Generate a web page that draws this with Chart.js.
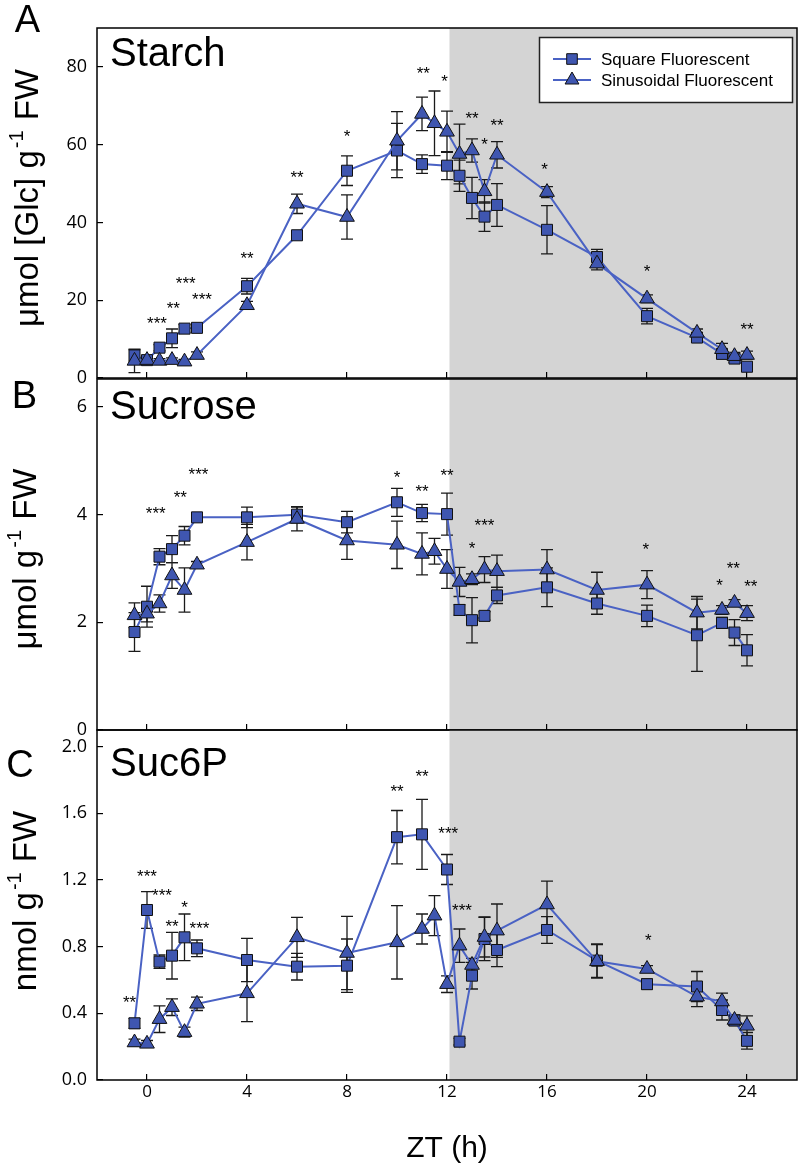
<!DOCTYPE html>
<html>
<head>
<meta charset="utf-8">
<script src="https://cdn.jsdelivr.net/npm/chart.js@4.4.1/dist/chart.umd.min.js"></script>
<style>
  html, body { margin: 0; padding: 0; background: #fff; }
  body { width: 800px; height: 1164px; position: relative; overflow: hidden; }
  canvas { position: absolute; left: 0; }
</style>
</head>
<body>
<canvas id="chartA" width="800" height="400" style="top:0px"></canvas>
<canvas id="chartB" width="800" height="390" style="top:360px"></canvas>
<canvas id="chartC" width="800" height="454" style="top:710px"></canvas>
<script>
// Sampling times (ZT, h). Squares were not sampled at 11.5 h
const timesSquare = [-0.5, 0, 0.5, 1, 1.5, 2, 4, 6, 8, 10, 11, 12, 12.5, 13, 13.5, 14, 16, 18, 20, 22, 23, 23.5, 24];
const timesSine = [-0.5, 0, 0.5, 1, 1.5, 2, 4, 6, 8, 10, 11, 11.5, 12, 12.5, 13, 13.5, 14, 16, 18, 20, 22, 23, 23.5, 24];

const seriesLabels = ['Square Fluorescent', 'Sinusoidal Fluorescent'];
const xTicks = [0, 4, 8, 12, 16, 20, 24];
const darkStart = 12.1;

// Starch (umol Glc g-1 FW)
const starchSquare = [5.8, 4.6, 7.8, 10.2, 12.7, 12.9, 23.6, 36.7, 53.3, 58.5, 55.0, 54.6, 52.0, 46.3, 41.5, 44.5, 38.1, 31.1, 15.9, 10.4, 6.2, 5.0, 2.9];
const starchSquareErr = [1.5, 0.8, 0.8, 2.4, 1.0, 1.0, 2.0, 0.8, 3.8, 7.0, 2.4, 3.6, 4.0, 5.3, 3.8, 5.5, 6.2, 2.0, 2.0, 1.0, 1.0, 1.0, 1.0];
const starchSine = [4.4, 4.6, 4.4, 4.6, 4.2, 5.9, 18.7, 44.8, 41.4, 61.0, 67.9, 65.5, 63.3, 57.6, 58.5, 48.0, 57.4, 47.8, 29.4, 20.4, 11.6, 7.4, 5.6, 5.9];
const starchSineErr = [3.0, 0.8, 0.6, 0.6, 0.6, 0.8, 1.0, 2.5, 5.7, 7.5, 4.3, 8.3, 5.3, 7.7, 3.0, 3.0, 3.4, 1.4, 1.6, 1.0, 1.0, 1.5, 1.0, 1.0];
const starchTicks = [0, 20, 40, 60, 80];
const starchStars = [[0.4, 15.1, '***'], [1.05, 19, '**'], [1.55, 25.4, '***'], [2.2, 21.3, '***'], [4, 31.8, '**'], [6, 52.6, '**'], [8, 63.3, '*'], [11.05, 79.4, '**'], [11.9, 77.4, '*'], [13, 67.9, '**'], [13.5, 61.2, '*'], [14, 66.2, '**'], [15.9, 54.9, '*'], [20, 28.5, '*'], [24, 13.6, '**']];

// Sucrose (umol g-1 FW)
const sucroseSquare = [1.82, 2.29, 3.22, 3.36, 3.61, 3.95, 3.95, 4.0, 3.86, 4.23, 4.03, 4.01, 2.23, 2.04, 2.12, 2.5, 2.65, 2.35, 2.12, 1.76, 1.99, 1.81, 1.48];
const sucroseSquareErr = [0.36, 0.38, 0.15, 0.25, 0.17, 0.06, 0.19, 0.15, 0.2, 0.26, 0.16, 0.39, 0.1, 0.42, 0.08, 0.15, 0.36, 0.2, 0.2, 0.67, 0.1, 0.24, 0.29];
const sucroseSine = [2.13, 2.16, 2.35, 2.87, 2.6, 3.07, 3.49, 3.92, 3.52, 3.44, 3.27, 3.32, 2.99, 2.75, 2.8, 2.98, 2.95, 2.98, 2.6, 2.7, 2.18, 2.23, 2.36, 2.17];
const sucroseSineErr = [0.23, 0.15, 0.16, 0.24, 0.41, 0.06, 0.33, 0.22, 0.35, 0.44, 0.39, 0.24, 0.36, 0.27, 0.1, 0.24, 0.3, 0.37, 0.33, 0.26, 0.3, 0.08, 0.06, 0.14];
const sucroseTicks = [0, 2, 4, 6];
const sucroseStars = [[0.35, 4.1, '***'], [1.33, 4.41, '**'], [2.06, 4.83, '***'], [10, 4.78, '*'], [11, 4.52, '**'], [12, 4.82, '**'], [13.5, 3.88, '***'], [13, 3.46, '*'], [19.95, 3.44, '*'], [23.45, 3.09, '**'], [22.9, 2.76, '*'], [24.15, 2.75, '**']];

// Suc6P (nmol g-1 FW)
const suc6pSquare = [0.34, 1.02, 0.71, 0.746, 0.856, 0.79, 0.72, 0.68, 0.686, 1.457, 1.474, 1.263, 0.23, 0.626, 0.846, 0.78, 0.9, 0.716, 0.575, 0.561, 0.42, 0.357, 0.235];
const suc6pSquareErr = [0.03, 0.11, 0.04, 0.14, 0.14, 0.05, 0.13, 0.08, 0.16, 0.16, 0.21, 0.09, 0.02, 0.08, 0.13, 0.1, 0.08, 0.1, 0.03, 0.09, 0.06, 0.03, 0.05];
const suc6pSine = [0.225, 0.217, 0.365, 0.437, 0.287, 0.457, 0.52, 0.856, 0.762, 0.826, 0.906, 0.986, 0.575, 0.806, 0.69, 0.858, 0.896, 1.053, 0.712, 0.666, 0.5, 0.471, 0.36, 0.325];
const suc6pSineErr = [0.02, 0.02, 0.08, 0.05, 0.03, 0.04, 0.17, 0.12, 0.22, 0.22, 0.09, 0.12, 0.05, 0.1, 0.04, 0.12, 0.16, 0.14, 0.1, 0.02, 0.06, 0.05, 0.03, 0.06];
const suc6pTicks = [0, 0.4, 0.8, 1.2, 1.6, 2.0];
const suc6pStars = [[-0.7, 0.495, '**'], [0, 1.25, '***'], [0.6, 1.137, '***'], [1.0, 0.946, '**'], [1.5, 1.063, '*'], [2.1, 0.938, '***'], [10, 1.76, '**'], [11, 1.85, '**'], [12.05, 1.508, '***'], [12.6, 1.047, '***'], [20.05, 0.866, '*']];

const lineColor = '#4a62c4';
const markerColor = '#3f56b0';
const sansFont = '"Liberation Sans", Arial, sans-serif';
const tickFont = '"Open Sans", sans-serif';

function toPoints(xs, ys) {
    return xs.map((x, i) => ({ x: x, y: ys[i] }));
}

// rotated axis title with a superscript piece
function drawYTitle(ctx, bx, cy, pre, sup, post) {
    const big = '33px ' + sansFont;
    const small = '20px ' + sansFont;
    ctx.save();
    ctx.translate(bx, cy);
    ctx.rotate(-Math.PI / 2);
    ctx.fillStyle = '#000';
    ctx.textBaseline = 'alphabetic';
    ctx.textAlign = 'left';
    ctx.font = big;
    const w1 = ctx.measureText(pre).width;
    const w3 = ctx.measureText(post).width;
    ctx.font = small;
    const w2 = ctx.measureText(sup).width + 3;
    const x = -(w1 + w2 + w3) / 2;
    ctx.font = big;
    ctx.fillText(pre, x, 0);
    ctx.font = small;
    ctx.fillText(sup, x + w1 + 2, -15);
    ctx.font = big;
    ctx.fillText(post, x + w1 + w2, 0);
    ctx.restore();
}

// Decorations for one panel: night shading, error bars, frame, stars, labels, legend
function makeDeco(cfg) {
    return {
        id: 'deco_' + cfg.id,
        beforeDraw(chart) {
            const { ctx, chartArea: a } = chart;
            const x0 = chart.scales.x.getPixelForValue(darkStart);
            ctx.save();
            ctx.fillStyle = '#d4d4d4';
            ctx.fillRect(x0, a.top, a.right - x0, a.bottom - a.top);
            ctx.restore();
        },
        beforeDatasetsDraw(chart) {
            const { ctx } = chart;
            const xs = chart.scales.x, ys = chart.scales.y;
            ctx.save();
            ctx.strokeStyle = '#1a1a1a';
            ctx.lineWidth = 1.3;
            chart.data.datasets.forEach(ds => {
                ds.data.forEach((p, i) => {
                    const e = ds.errors[i];
                    const px = xs.getPixelForValue(p.x);
                    const top = ys.getPixelForValue(p.y + e);
                    const bot = ys.getPixelForValue(Math.max(p.y - e, 0));
                    ctx.beginPath();
                    ctx.moveTo(px, top); ctx.lineTo(px, bot);
                    ctx.moveTo(px - 6, top); ctx.lineTo(px + 6, top);
                    ctx.moveTo(px - 6, bot); ctx.lineTo(px + 6, bot);
                    ctx.stroke();
                });
            });
            ctx.restore();
        },
        afterDraw(chart) {
            const { ctx, chartArea: a } = chart;
            const xs = chart.scales.x, ys = chart.scales.y;
            ctx.save();
            // frame
            ctx.strokeStyle = '#000';
            ctx.lineWidth = 1.5;
            ctx.strokeRect(a.left, a.top, a.right - a.left, a.bottom - a.top);
            // significance stars
            ctx.fillStyle = '#000';
            ctx.font = '17px ' + sansFont;
            ctx.textAlign = 'center';
            ctx.textBaseline = 'alphabetic';
            cfg.stars.forEach(s => {
                ctx.fillText(s[2], xs.getPixelForValue(s[0]), ys.getPixelForValue(s[1]) + 10);
            });
            // panel letter and title
            ctx.font = '38px ' + sansFont;
            ctx.fillText(cfg.letter, cfg.letterX, cfg.letterY);
            ctx.textAlign = 'left';
            ctx.font = '40px ' + sansFont;
            ctx.fillText(cfg.title, a.left + 13, cfg.titleY);
            // y axis title
            drawYTitle(ctx, cfg.yTitleX, cfg.yTitleY, cfg.yTitle[0], cfg.yTitle[1], cfg.yTitle[2]);
            // x axis title (bottom panel only)
            if (cfg.xTitle) {
                ctx.font = '30px ' + sansFont;
                ctx.textAlign = 'center';
                ctx.fillText(cfg.xTitle, (a.left + a.right) / 2, cfg.xTitleY);
            }
            // legend (top panel only)
            if (cfg.legend) {
                const bx = 539.5, by = 37.5, bw = 253, bh = 65;
                ctx.fillStyle = '#fff';
                ctx.fillRect(bx, by, bw, bh);
                ctx.strokeStyle = '#222';
                ctx.lineWidth = 1.5;
                ctx.strokeRect(bx, by, bw, bh);
                const rows = [59, 80];
                const styles = ['rect', 'triangle'];
                const radii = [7.5, 8];
                seriesLabels.forEach((lab, i) => {
                    const y = rows[i];
                    ctx.strokeStyle = lineColor;
                    ctx.lineWidth = 2;
                    ctx.beginPath();
                    ctx.moveTo(553, y); ctx.lineTo(591, y);
                    ctx.stroke();
                    ctx.fillStyle = markerColor;
                    ctx.strokeStyle = '#111';
                    ctx.lineWidth = 1;
                    Chart.helpers.drawPoint(ctx, { pointStyle: styles[i], radius: radii[i], rotation: 0, borderWidth: 1 }, 572, y);
                    ctx.fillStyle = '#000';
                    ctx.font = '17px ' + sansFont;
                    ctx.textAlign = 'left';
                    ctx.textBaseline = 'middle';
                    ctx.fillText(lab, 601, y + 1);
                });
            }
            ctx.restore();
        }
    };
}

function makePanel(canvasId, cfg) {
    const ctx = document.getElementById(canvasId).getContext('2d');
    return new Chart(ctx, {
        type: 'scatter',
        data: {
            datasets: [
                {
                    label: seriesLabels[0],
                    data: toPoints(timesSquare, cfg.square),
                    errors: cfg.squareErr,
                    showLine: true,
                    borderColor: lineColor,
                    borderWidth: 2,
                    pointStyle: 'rect',
                    pointRadius: 7.8,
                    pointBackgroundColor: markerColor,
                    pointBorderColor: '#111',
                    pointBorderWidth: 1,
                    order: 1
                },
                {
                    label: seriesLabels[1],
                    data: toPoints(timesSine, cfg.sine),
                    errors: cfg.sineErr,
                    showLine: true,
                    borderColor: lineColor,
                    borderWidth: 2,
                    pointStyle: 'triangle',
                    pointRadius: 8.5,
                    pointBackgroundColor: markerColor,
                    pointBorderColor: '#111',
                    pointBorderWidth: 1,
                    order: 0
                }
            ]
        },
        options: {
            responsive: false,
            animation: false,
            events: [],
            layout: { autoPadding: false, padding: { top: cfg.padTop, right: 3, left: 0, bottom: 0 } },
            scales: {
                x: {
                    type: 'linear',
                    min: -2,
                    max: 26,
                    afterBuildTicks: s => { s.ticks = xTicks.map(v => ({ value: v })); },
                    afterFit: s => {
                        s.height = cfg.xAxisHeight;
                        s.paddingLeft = 0; s.paddingRight = 0;
                    },
                    border: { display: false },
                    grid: { drawOnChartArea: false, drawTicks: true, tickLength: -6, color: '#000', lineWidth: 1.2 },
                    ticks: {
                        display: cfg.showXLabels,
                        padding: 8,
                        color: '#000',
                        font: { family: tickFont, size: 17 }
                    }
                },
                y: {
                    type: 'linear',
                    min: 0,
                    max: cfg.yMax,
                    afterBuildTicks: s => { s.ticks = cfg.yTicks.map(v => ({ value: v })); },
                    afterFit: s => {
                        s.width = 97;
                        s.paddingTop = 0; s.paddingBottom = 0;
                    },
                    border: { display: false },
                    grid: { drawOnChartArea: false, drawTicks: true, tickLength: -6, color: '#000', lineWidth: 1.2 },
                    ticks: {
                        padding: 16,
                        color: '#000',
                        font: { family: tickFont, size: 18 },
                        callback: v => cfg.tickFmt(v)
                    }
                }
            },
            plugins: {
                legend: { display: false },
                tooltip: { enabled: false }
            }
        },
        plugins: [makeDeco(cfg)]
    });
}

makePanel('chartA', {
    id: 'A', square: starchSquare, squareErr: starchSquareErr, sine: starchSine, sineErr: starchSineErr,
    yMax: 90, yTicks: starchTicks, tickFmt: v => String(v), stars: starchStars,
    padTop: 28, xAxisHeight: 22, showXLabels: false,
    letter: 'A', letterX: 27.5, letterY: 32, title: 'Starch', titleY: 66,
    yTitle: ['\u03bcmol [Glc] g', '-1', ' FW'], yTitleX: 38, yTitleY: 198,
    legend: true
});

makePanel('chartB', {
    id: 'B', square: sucroseSquare, squareErr: sucroseSquareErr, sine: sucroseSine, sineErr: sucroseSineErr,
    yMax: 6.52, yTicks: sucroseTicks, tickFmt: v => String(v), stars: sucroseStars,
    padTop: 19, xAxisHeight: 20, showXLabels: false,
    letter: 'B', letterX: 24.5, letterY: 48, title: 'Sucrose', titleY: 59,
    yTitle: ['\u03bcmol g', '-1', ' FW'], yTitleX: 36, yTitleY: 199,
    legend: false
});

makePanel('chartC', {
    id: 'C', square: suc6pSquare, squareErr: suc6pSquareErr, sine: suc6pSine, sineErr: suc6pSineErr,
    yMax: 2.1, yTicks: suc6pTicks, tickFmt: v => v.toFixed(1), stars: suc6pStars,
    padTop: 20, xAxisHeight: 84, showXLabels: true,
    letter: 'C', letterX: 20, letterY: 67, title: 'Suc6P', titleY: 66,
    yTitle: ['nmol g', '-1', ' FW'], yTitleX: 36, yTitleY: 191,
    xTitle: 'ZT (h)', xTitleY: 447,
    legend: false
});
</script>
</body>
</html>
